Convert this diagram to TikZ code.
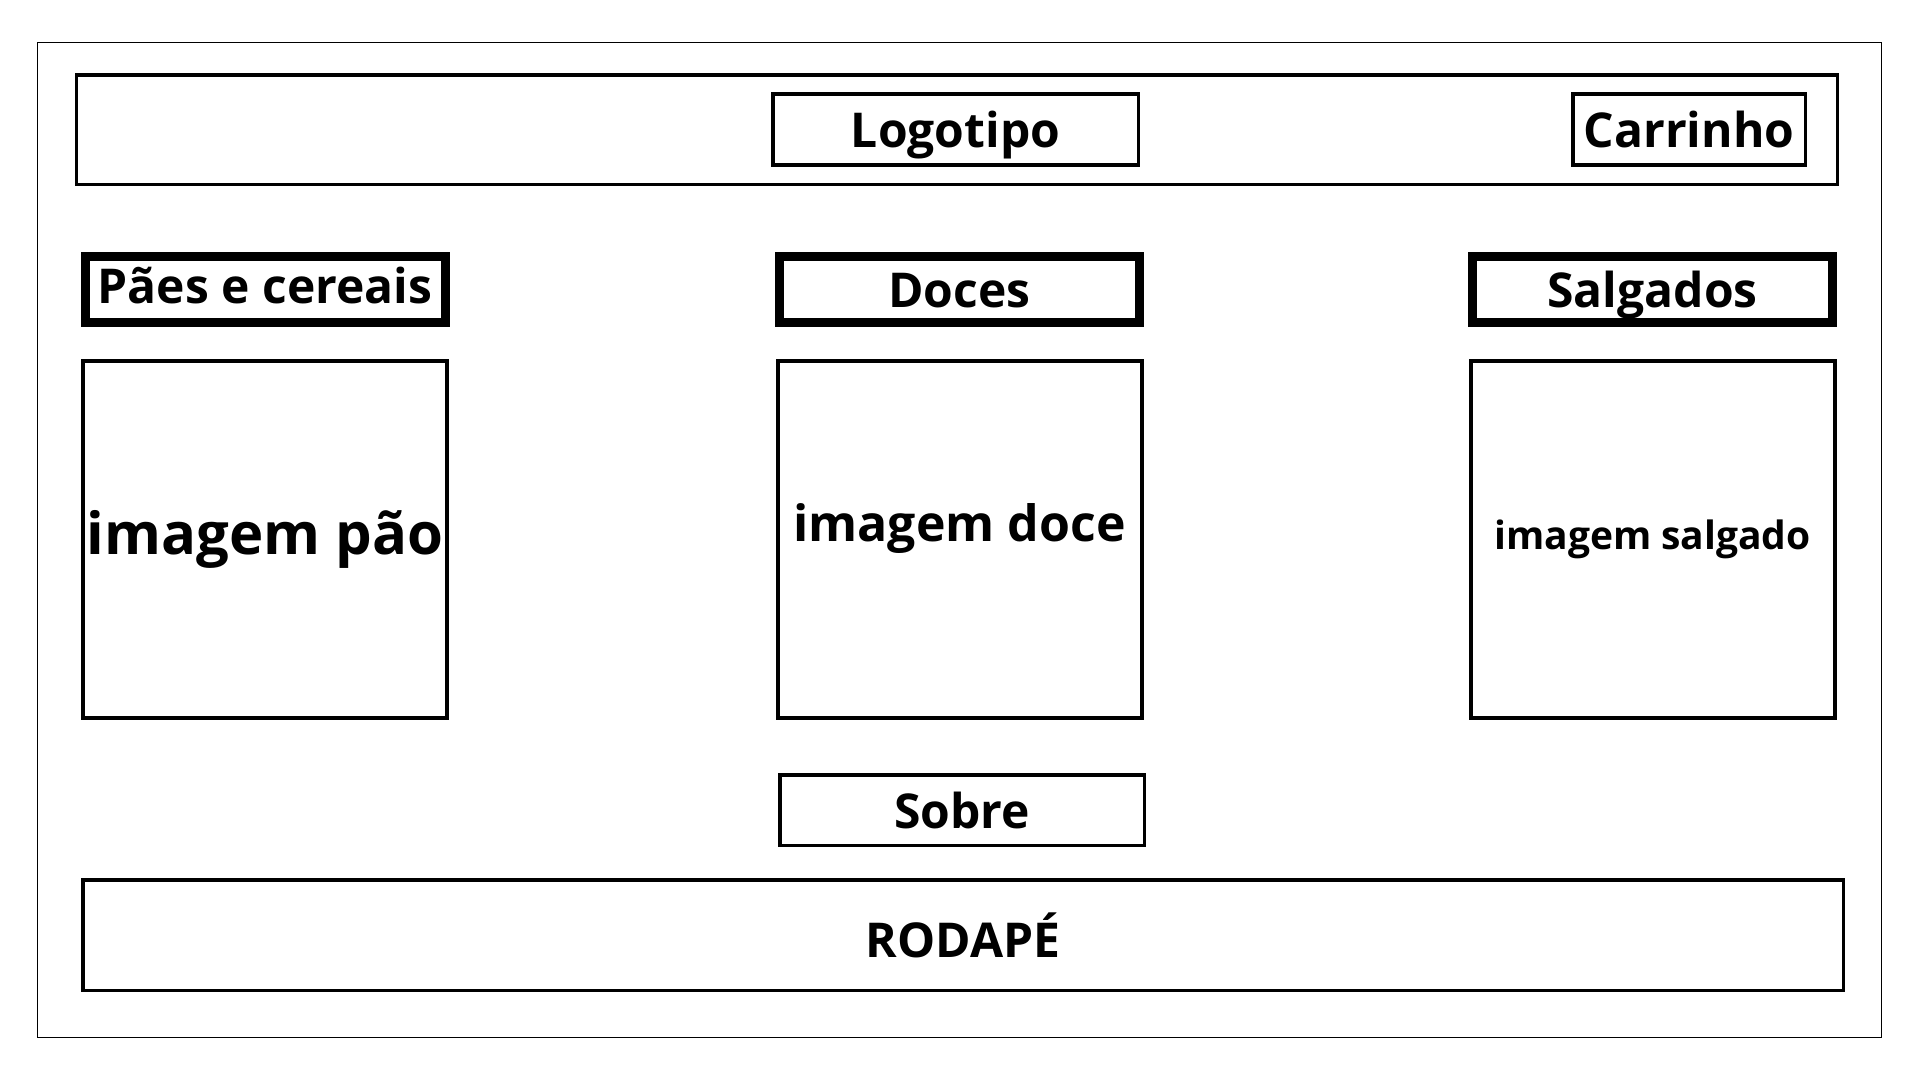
\documentclass[tikz,border=0pt]{standalone}
\usepackage{fontspec}
\setmainfont{Open Sans}
\begin{document}
\begin{tikzpicture}[x=1pt,y=-1pt,
  every node/.style={inner sep=0pt, outer sep=0pt, font=\bfseries\fontsize{48}{56}\selectfont},
  fixt/.style={text height=36.5pt, text depth=0pt},
  frm/.style={draw, line width=1.5pt, rectangle},
  bar/.style={draw, line width=3.2pt, rectangle},
  lbl/.style={draw, line width=3.5pt, rectangle},
  cat/.style={draw, line width=9pt, rectangle, minimum width=360pt, minimum height=66pt, fixt},
  img/.style={draw, line width=4pt, rectangle, minimum width=364pt, minimum height=357pt}]
\useasboundingbox (0,0) rectangle (1920,1080);
\fill[white] (0,0) rectangle (1920,1080);
\node[frm, minimum width=1844pt, minimum height=995pt] (frame) at (959.4,539.8) {};
\node[bar, minimum width=1761pt, minimum height=109.5pt] (header) at (956.9,129.8) {};
\node[lbl, fixt, minimum width=365.5pt, minimum height=71pt] (logo) at (955.5,129.3) {Logotipo};
\node[lbl, fixt, minimum width=232.5pt, minimum height=71pt] (cart) at (1689,129.3) {Carrinho};
\node[cat] (paes) at (265,289.5) {};
\node[fixt] (tpaes) at (265,285.5) {Pães e cereais};
\node[cat] (doces) at (959.5,289.5) {Doces};
\node[cat] (salg) at (1652.5,289.5) {Salgados};
\node[img] (imgpao) at (265,539.5) {\fontsize{58}{66}\selectfont imagem pão};
\node[img] (imgdoce) at (959.5,539.5) {};
\node[font=\bfseries\fontsize{50}{58}\selectfont] (tdoce) at (959.5,529) {imagem doce};
\node[img] (imgsalg) at (1652.5,539.5) {\fontsize{39}{46}\selectfont imagem salgado};
\node[lbl, minimum width=364.5pt, minimum height=70.5pt] (sobre) at (962,810) {Sobre};
\node[lbl, minimum width=1760.5pt, minimum height=110.5pt] (rodape) at (963,935) {RODAPÉ};
\end{tikzpicture}
\end{document}
